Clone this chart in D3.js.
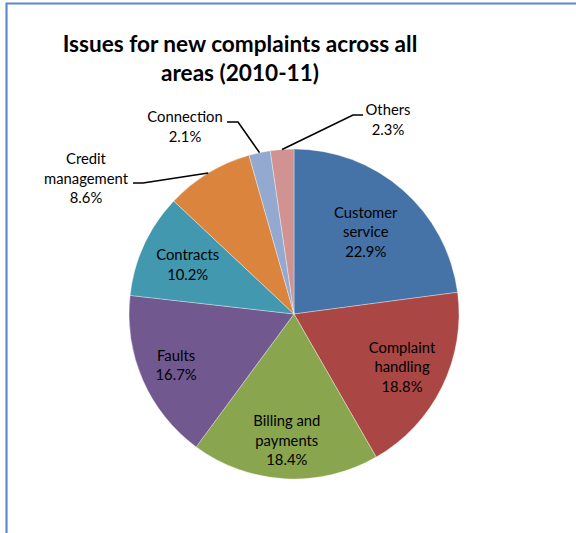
<!DOCTYPE html>
<html><head><meta charset="utf-8">
<script src="https://cdn.jsdelivr.net/npm/d3@7"></script>
<style>body{margin:0;background:#fff}svg{display:block}</style>
</head><body>
<svg id="c" width="576" height="533"></svg>
<script>
const categories = ["Customer service","Complaint handling","Billing and payments","Faults","Contracts","Credit management","Connection","Others"];
const values = [22.9, 18.8, 18.4, 16.7, 10.2, 8.6, 2.1, 2.3];
const colors = ["#4572A7","#AA4643","#89A54E","#71588F","#4198AF","#DB843D","#93A9CF","#D19392"];
const labelLines = [["Customer","service"],["Complaint","handling"],["Billing and","payments"],["Faults"],["Contracts"],["Credit","management"],["Connection"],["Others"]];
const titleLines = ["Issues for new complaints across all","areas (2010-11)"];

const svg = d3.select("#c");
const W = 576, H = 533;
// frame
svg.append("path").attr("d", `M6.5,${H} V3.5 H${W}`).attr("fill","none").attr("stroke","#5B8BC9").attr("stroke-width",2.2);

const font = "Lato, 'Open Sans', sans-serif";
svg.append("g").selectAll("text").data(titleLines).join("text")
  .attr("x",240).attr("y",(d,i)=>52+i*29).attr("text-anchor","middle")
  .attr("font-family",font).attr("font-weight","bold").attr("font-size",22.6).attr("fill","#000").text(d=>d);

const cx = 294, cy = 314, R = 165;
const pie = d3.pie().sort(null).value(d=>d)(values);
const arc = d3.arc().innerRadius(0).outerRadius(R);
const g = svg.append("g").attr("transform",`translate(${cx},${cy})`);
g.selectAll("path").data(pie).join("path").attr("d",arc).attr("fill",(d,i)=>colors[i])
  .attr("stroke","#fff").attr("stroke-width",0.5).attr("stroke-opacity",0.7);

const lineH = 19.5, fs = 14.8;
function drawLabel(x, yTop, lines, pct){
  const all = lines.concat([pct.toFixed(1)+"%"]);
  const t = svg.append("text").attr("font-family",font).attr("font-size",fs).attr("fill","#000").attr("text-anchor","middle");
  all.forEach((s,k)=>t.append("tspan").attr("x",x).attr("y",yTop+k*lineH).text(s));
}
const insideFactor = [0.66,0.73,0.77,0.78,0.71];
pie.forEach((d,i)=>{
  if(i<5){
    const a = (d.startAngle+d.endAngle)/2, r = R*insideFactor[i];
    const x = cx + r*Math.sin(a), y = cy - r*Math.cos(a);
    const n = labelLines[i].length+1;
    drawLabel(x, y - (n-1)*lineH/2 + 5, labelLines[i], values[i]);
  }
});
// outside labels
const outside = {5:{x:86, y:164, lx:133, ly:183, bx:143}, 6:{x:185, y:122, lx:227, ly:122, bx:238}, 7:{x:388, y:115, lx:363, ly:115, bx:353}};
Object.entries(outside).forEach(([k,o])=>{
  const i=+k, d=pie[i], a=(d.startAngle+d.endAngle)/2;
  const ex = cx + R*Math.sin(a), ey = cy - R*Math.cos(a);
  drawLabel(o.x, o.y, labelLines[i], values[i]);
  const pts=[[o.lx,o.ly],[o.bx,o.ly],[ex,ey]];
  svg.append("path").attr("d",d3.line()(pts)).attr("fill","none").attr("stroke","#000").attr("stroke-width",1.6);
});
</script></body></html>
